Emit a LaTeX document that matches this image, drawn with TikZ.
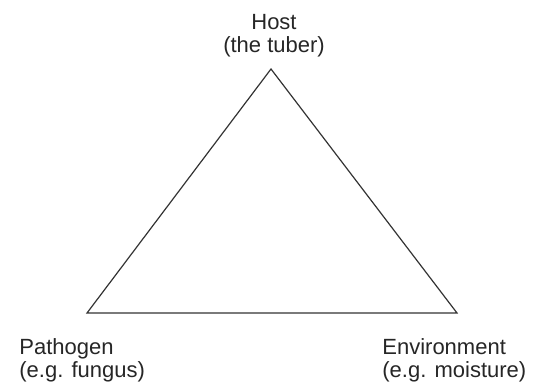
\documentclass[tikz,border=0pt]{standalone}
\usepackage{fontspec}
\setmainfont{Liberation Sans}
\begin{document}
\begin{tikzpicture}[
  x=0.5pt, y=-0.5pt,
  every node/.style={font=\fontsize{11}{11.3}\selectfont, text=black!85},
  factor/.style={inner sep=0pt, anchor=base west, align=left},
  top/.style={inner sep=0pt, anchor=base, align=center},
  side/.style={line width=0.6pt, draw=black!80, line join=miter}
]
\useasboundingbox (0,0) rectangle (537,387);

% --- the three corners ---
\coordinate (host) at (271,69);
\coordinate (pathogen) at (87,313);
\coordinate (env) at (457,313);

\draw[side] (host) -- (pathogen) -- (env) -- cycle;

% --- labels (base = last line) ---
\node[top] (hostlbl) at (274,52) {Host\\(the tuber)};
\node[factor] (pathlbl) at (19,377) {Pathogen\\(e.g. fungus)};
\node[factor] (envlbl) at (382,377) {Environment\\(e.g. moisture)};
\end{tikzpicture}
\end{document}
